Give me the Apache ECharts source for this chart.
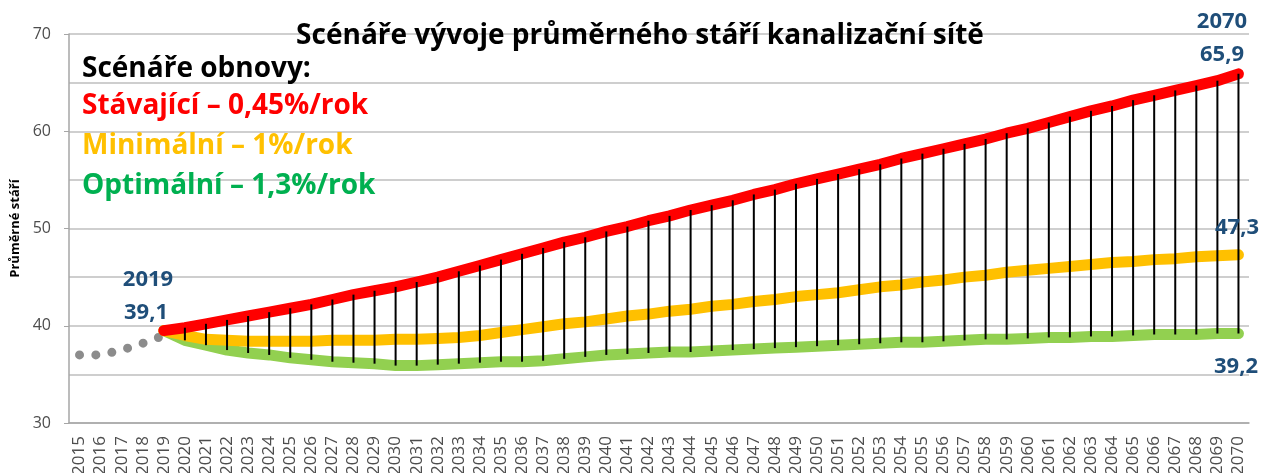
<!DOCTYPE html>
<html>
<head>
<meta charset="utf-8">
<script src="https://cdn.jsdelivr.net/npm/echarts@6/dist/echarts.min.js"></script>
<style>
	html, body { margin: 0; padding: 0; background: #fff; }
	#chart { width: 1261px; height: 473px; }
</style>
</head>
<body>
<div id="chart"></div>
<script>
var years = [];
for (var y = 2015; y <= 2070; y++) years.push(String(y));

// historie 2015-2019 (tečkovaně)
var historie = [37.0, 37.0, 37.5, 38.2, 39.0];

// scénáře 2019-2070
var stavajici = [39.5, 39.8, 40.2, 40.6, 41.0, 41.4, 41.8, 42.2, 42.7, 43.2,
	43.6, 44.0, 44.5, 45.0, 45.6, 46.2, 46.8, 47.4, 48.0, 48.6,
	49.1, 49.7, 50.2, 50.8, 51.3, 51.9, 52.4, 52.9, 53.5, 54.0,
	54.6, 55.1, 55.6, 56.1, 56.6, 57.2, 57.7, 58.2, 58.7, 59.2,
	59.8, 60.3, 60.9, 61.5, 62.1, 62.6, 63.2, 63.7, 64.2, 64.7,
	65.2, 65.9];
var minimalni = [39.5, 39.0, 38.6, 38.5, 38.4, 38.4, 38.4, 38.4, 38.5, 38.5,
	38.5, 38.6, 38.6, 38.7, 38.8, 39.0, 39.3, 39.6, 39.9, 40.2,
	40.4, 40.7, 41.0, 41.2, 41.5, 41.7, 42.0, 42.2, 42.5, 42.7,
	43.0, 43.2, 43.4, 43.7, 44.0, 44.2, 44.5, 44.7, 45.0, 45.2,
	45.5, 45.7, 45.9, 46.1, 46.3, 46.5, 46.6, 46.8, 46.9, 47.1,
	47.2, 47.3];
var optimalni = [39.5, 38.5, 38.0, 37.5, 37.2, 37.0, 36.7, 36.5, 36.3, 36.2,
	36.1, 35.9, 35.9, 36.0, 36.1, 36.2, 36.3, 36.3, 36.4, 36.6,
	36.8, 37.0, 37.1, 37.2, 37.3, 37.3, 37.4, 37.5, 37.6, 37.7,
	37.8, 37.9, 38.0, 38.1, 38.2, 38.3, 38.3, 38.4, 38.5, 38.6,
	38.6, 38.7, 38.8, 38.8, 38.9, 38.9, 39.0, 39.1, 39.1, 39.1,
	39.2, 39.2];

var yTicks = [30, 40, 50, 60, 70];

var FONT = '"Open Sans"';
var BLUE = '#1F4E79';
var start = years.indexOf('2019');

function pad(arr, from) {
	var out = [];
	for (var i = 0; i < years.length; i++) {
		out.push(i >= from && i - from < arr.length ? arr[i - from] : '-');
	}
	return out;
}

// spojnice max-min od 2020
var spojnice = [];
for (var i = 1; i < stavajici.length; i++) {
	spojnice.push([start + i, stavajici[i], optimalni[i]]);
}

function txt(x, y, s, color, size, align) {
	return {
		type: 'text', x: x, y: y, z: 10,
		style: { text: s, fill: color, font: 'bold ' + size + 'px ' + FONT, align: align || 'left', verticalAlign: 'middle' }
	};
}

var chart = echarts.init(document.getElementById('chart'));
chart.setOption({
	animation: false,
	grid: { left: 69, right: 12, top: 34, bottom: 50, outerBoundsMode: 'none' },
	xAxis: {
		type: 'category',
		data: years,
		boundaryGap: true,
		axisLine: { lineStyle: { color: '#A6A6A6', width: 1.5 } },
		axisTick: { show: false },
		axisLabel: { interval: 0, rotate: 90, color: '#4D4D4D', fontFamily: FONT, fontSize: 17, margin: 13 }
	},
	yAxis: {
		type: 'value',
		min: yTicks[0],
		max: yTicks[yTicks.length - 1],
		interval: 10,
		name: 'Průměrné stáří',
		nameLocation: 'middle',
		nameGap: 45,
		nameTextStyle: { fontFamily: FONT, fontSize: 13, fontWeight: 'bold', color: '#000' },
		axisLine: { show: true, lineStyle: { color: '#A6A6A6', width: 1.5 } },
		axisTick: { show: true, length: 5, lineStyle: { color: '#A6A6A6' } },
		axisLabel: { color: '#4D4D4D', fontFamily: FONT, fontSize: 16, margin: 18 },
		splitLine: { lineStyle: { color: '#BFBFBF', width: 1.5 } },
		minorTick: { show: false, splitNumber: 2 },
		minorSplitLine: { show: true, lineStyle: { color: '#BFBFBF', width: 1.5 } }
	},
	series: [{
		name: 'historie',
		type: 'line',
		data: pad(historie, 0),
		symbol: 'none',
		z: 2,
		lineStyle: { color: '#8C8C8C', width: 9, type: [0, 16.3], cap: 'round' }
	}, {
		name: 'Optimální',
		type: 'line',
		data: pad(optimalni, start),
		symbol: 'none',
		z: 3,
		lineStyle: { color: '#92D050', width: 11, cap: 'round', join: 'round' }
	}, {
		name: 'Minimální',
		type: 'line',
		data: pad(minimalni, start),
		symbol: 'none',
		z: 4,
		lineStyle: { color: '#FFC000', width: 11, cap: 'round', join: 'round' }
	}, {
		name: 'Stávající',
		type: 'line',
		data: pad(stavajici, start),
		symbol: 'none',
		z: 5,
		lineStyle: { color: '#FF0000', width: 11, cap: 'round', join: 'round' }
	}, {
		name: 'spojnice',
		type: 'custom',
		data: spojnice,
		z: 6,
		renderItem: function(params, api) {
			var a = api.coord([api.value(0), api.value(1)]);
			var b = api.coord([api.value(0), api.value(2)]);
			return {
				type: 'line',
				shape: { x1: a[0], y1: a[1], x2: b[0], y2: b[1] },
				style: { stroke: '#000', lineWidth: 2 }
			};
		}
	}],
	graphic: [
		txt(640, 36, 'Scénáře vývoje průměrného stáří kanalizační sítě', '#000', 28, 'center'),
		txt(82, 69, 'Scénáře obnovy:', '#000', 28),
		txt(82, 106, 'Stávající – 0,45%/rok', '#FF0000', 28),
		txt(82, 146, 'Minimální – 1%/rok', '#FFC000', 28),
		txt(82, 186, 'Optimální – 1,3%/rok', '#00B050', 28),
		txt(148, 280, '2019', BLUE, 22, 'center'),
		txt(146, 313, '39,1', BLUE, 22, 'center'),
		txt(1222, 22, '2070', BLUE, 22, 'center'),
		txt(1222, 55, '65,9', BLUE, 22, 'center'),
		txt(1237, 228, '47,3', BLUE, 22, 'center'),
		txt(1236, 367, '39,2', BLUE, 22, 'center')
	]
});
</script>
</body>
</html>
